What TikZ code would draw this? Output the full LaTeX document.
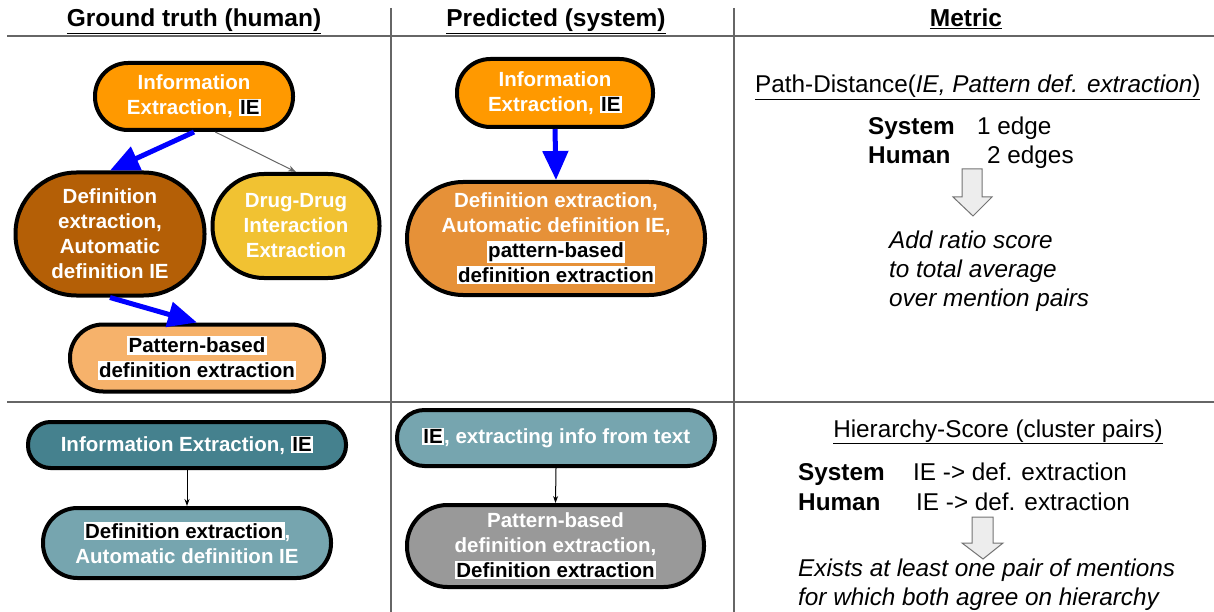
\documentclass[tikz,border=0pt]{standalone}
\usepackage{fontspec}
\setmainfont{Liberation Sans}
\usetikzlibrary{arrows.meta}
\definecolor{ieorange}{HTML}{FF9900}
\definecolor{defbrown}{HTML}{B45F06}
\definecolor{drugyellow}{HTML}{F1C232}
\definecolor{patpeach}{HTML}{F6B26B}
\definecolor{deforange}{HTML}{E69138}
\definecolor{tealdark}{HTML}{45818E}
\definecolor{teallight}{HTML}{76A5AF}
\definecolor{graynode}{HTML}{999999}
\definecolor{sepgray}{HTML}{666666}
\newcommand\hl[1]{{\setlength{\fboxsep}{1.5pt}\colorbox{white}{\textcolor{black}{#1}}}}
\begin{document}
\begin{tikzpicture}[x=1pt,y=-1pt,
  pill/.style={draw=black, line width=4pt, text=white, font=\bfseries\fontsize{20.5}{25}\selectfont, align=center, inner sep=0pt},
  hdr/.style={font=\bfseries\fontsize{24.5}{28}\selectfont, anchor=base, inner sep=0pt},
  mtxt/.style={font=\fontsize{24.3}{29}\selectfont, anchor=base west, inner sep=0pt},
  mbold/.style={font=\bfseries\fontsize{24.3}{29}\selectfont, anchor=base west, inner sep=0pt},
  mital/.style={font=\itshape\fontsize{24.3}{29}\selectfont, anchor=base west, inner sep=0pt},
  sepline/.style={draw=sepgray, line width=2pt},
  bluearrow/.style={draw=blue, line width=5pt, -{Triangle[length=29pt,width=25pt]}},
  thinarrow/.style={draw=black, line width=1pt, -{Stealth[length=7pt,width=5pt]}},
  grayarrow/.style={draw=sepgray, line width=1pt, -{Stealth[length=8pt,width=6pt]}},
  hollow/.style={draw=black!55, fill=black!7, line width=1pt}
]
\useasboundingbox (0,0) rectangle (1214,612);

% separators
\draw[sepline] (7,36) -- (1214,36);
\draw[sepline] (7,402) -- (1214,402);
\draw[sepline] (391,8) -- (391,612);
\draw[sepline] (734,8) -- (734,612);

% headers
\node[hdr] (h1) at (194,27) {\underline{Ground truth (human)}};
\node[hdr] (h2) at (556,27) {\underline{Predicted (system)}};
\node[hdr] (h3) at (966,27) {\underline{Metric}};

% top-left (ground truth)
\node[pill, fill=ieorange, minimum width=198pt, minimum height=67pt, rounded corners=33pt] (gIE) at (194,96.5) {Information\\Extraction, \hl{IE}};
\node[pill, fill=defbrown, minimum width=189pt, minimum height=123pt, rounded corners=61pt] (gDef) at (110,234) {Definition\\extraction,\\Automatic\\definition IE};
\node[pill, fill=drugyellow, minimum width=167pt, minimum height=104pt, rounded corners=51.5pt] (gDrug) at (296,226) {Drug-Drug\\Interaction\\Extraction};
\node[pill, fill=patpeach, text=black, minimum width=254pt, minimum height=67pt, rounded corners=33pt] (gPat) at (197,358) {\hl{Pattern-based}\\\hl{definition extraction}};
\draw[bluearrow] (gIE.south) -- (gDef.north);
\draw[grayarrow] (gIE.-59) -- (gDrug.north);
\draw[bluearrow] (gDef.south) -- (gPat.north);

% top-middle (predicted)
\node[pill, fill=ieorange, minimum width=196pt, minimum height=68pt, rounded corners=33.5pt] (mIE) at (555,93) {Information\\Extraction, \hl{IE}};
\node[pill, fill=deforange, minimum width=298pt, minimum height=113pt, rounded corners=56pt] (mDef) at (556,238.5) {Definition extraction,\\Automatic definition IE,\\\hl{pattern-based}\\\hl{definition extraction}};
\draw[bluearrow] (mIE.south) -- (mDef.north);

% top-right (metric)
\node[mtxt] (pd) at (755,93) {\underline{Path-Distance(\textit{IE, Pattern def. extraction})}};
\node[mbold] (sys1) at (868,135) {System};
\node[mtxt] (sys1v) at (977,135) {1 edge};
\node[mbold] (hum1) at (868,164) {Human};
\node[mtxt] (hum1v) at (987,164) {2 edges};
\draw[hollow] (962,169) -- (982,169) -- (982,197) -- (992,197) -- (973,216) -- (953,197) -- (962,197) -- cycle;
\node[mital] (r1) at (889,248) {Add ratio score};
\node[mital] (r2) at (889,277) {to total average};
\node[mital] (r3) at (889,306) {over mention pairs};

% bottom-left
\node[pill, fill=tealdark, minimum width=318pt, minimum height=46pt, rounded corners=22.5pt] (bIE) at (187,445) {Information Extraction, \hl{IE}};
\node[pill, fill=teallight, minimum width=288pt, minimum height=70pt, rounded corners=34.5pt] (bDef) at (187,543) {\hl{Definition extraction},\\Automatic definition IE};
\draw[thinarrow] (bIE.south) -- (bDef.north);

% bottom-middle
\node[pill, fill=teallight, minimum width=318pt, minimum height=56pt, rounded corners=27.5pt] (pIE) at (556,438) {\hl{IE}, extracting info from text};
\node[pill, fill=graynode, minimum width=297pt, minimum height=82pt, rounded corners=40.5pt] (pPat) at (555.5,546) {Pattern-based\\definition extraction,\\\hl{Definition extraction}};
\draw[thinarrow] (pIE.south) -- (pPat.north);

% bottom-right
\node[hdr, font=\fontsize{24.3}{28}\selectfont] (hs) at (998,437) {\underline{Hierarchy-Score (cluster pairs)}};
\node[mbold] (sys2) at (798,480) {System};
\node[mtxt] (sys2v) at (913,480) {IE -> def. extraction};
\node[mbold] (hum2) at (798,510) {Human};
\node[mtxt] (hum2v) at (916,510) {IE -> def. extraction};
\draw[hollow] (972,517) -- (993,517) -- (993,543) -- (1003,543) -- (983,559) -- (962,543) -- (972,543) -- cycle;
\node[mital] (e1) at (798,576) {Exists at least one pair of mentions};
\node[mital] (e2) at (798,605) {for which both agree on hierarchy};
\end{tikzpicture}
\end{document}
